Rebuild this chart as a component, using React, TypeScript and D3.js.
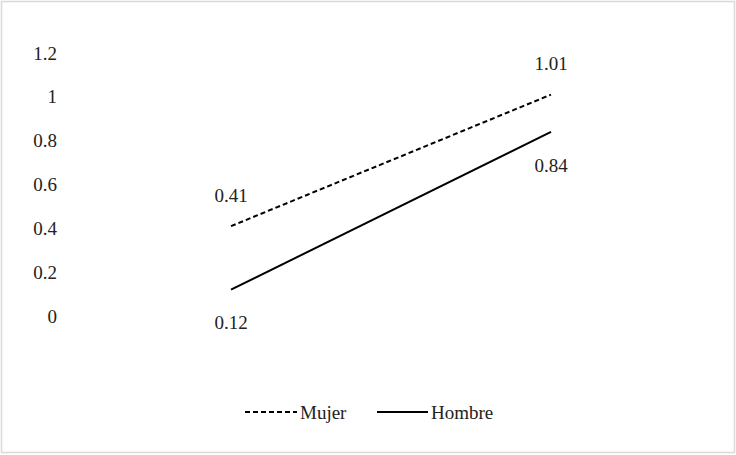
import React from "react";
import * as d3 from "d3";

const categories = ["A", "B"];
const mujer = [0.41, 1.01];
const hombre = [0.12, 0.84];
const yTicks = [0, 0.2, 0.4, 0.6, 0.8, 1, 1.2];

const W = 736;
const H = 455;
const font = "Liberation Serif, DejaVu Serif, Times New Roman, serif";

export default function App() {
  const x = d3.scalePoint<string>().domain(categories).range([231, 551]);
  const y = d3.scaleLinear().domain([0, 1.2]).range([316, 53]);

  const line = d3
    .line<number>()
    .x((_, i) => x(categories[i]) as number)
    .y((d) => y(d));

  const series = [
    { name: "Mujer", values: mujer, dash: "5,3", labelAbove: true },
    { name: "Hombre", values: hombre, dash: undefined, labelAbove: false },
  ];

  const txt = { fontFamily: font, fontSize: 19, fill: "#222" };

  return (
    <div>
      <style>{`body{margin:0}`}</style>
      <svg width={W} height={H} style={{ display: "block" }}>
        <rect x={1.5} y={1.5} width={W - 3} height={H - 4} fill="#fff" stroke="#d9d9d9" strokeWidth={1.5} />
        {yTicks.map((t) => (
          <text key={t} x={57} y={y(t)} dy="0.35em" textAnchor="end" style={txt}>
            {t}
          </text>
        ))}
        {series.map((s) => (
          <g key={s.name}>
            <path d={line(s.values) || ""} fill="none" stroke="#000" strokeWidth={2} strokeDasharray={s.dash} />
            {s.values.map((v, i) => (
              <text
                key={i}
                x={x(categories[i]) as number}
                y={y(v) + (s.labelAbove ? -31 : 33)}
                dy="0.35em"
                textAnchor="middle"
                style={txt}
              >
                {v}
              </text>
            ))}
          </g>
        ))}
        <g>
          <line x1={245} x2={297} y1={412} y2={412} stroke="#000" strokeWidth={2} strokeDasharray="5,3" />
          <text x={300} y={412} dy="0.35em" style={txt}>Mujer</text>
          <line x1={377} x2={428} y1={412} y2={412} stroke="#000" strokeWidth={2} />
          <text x={431} y={412} dy="0.35em" style={txt}>Hombre</text>
        </g>
      </svg>
    </div>
  );
}
